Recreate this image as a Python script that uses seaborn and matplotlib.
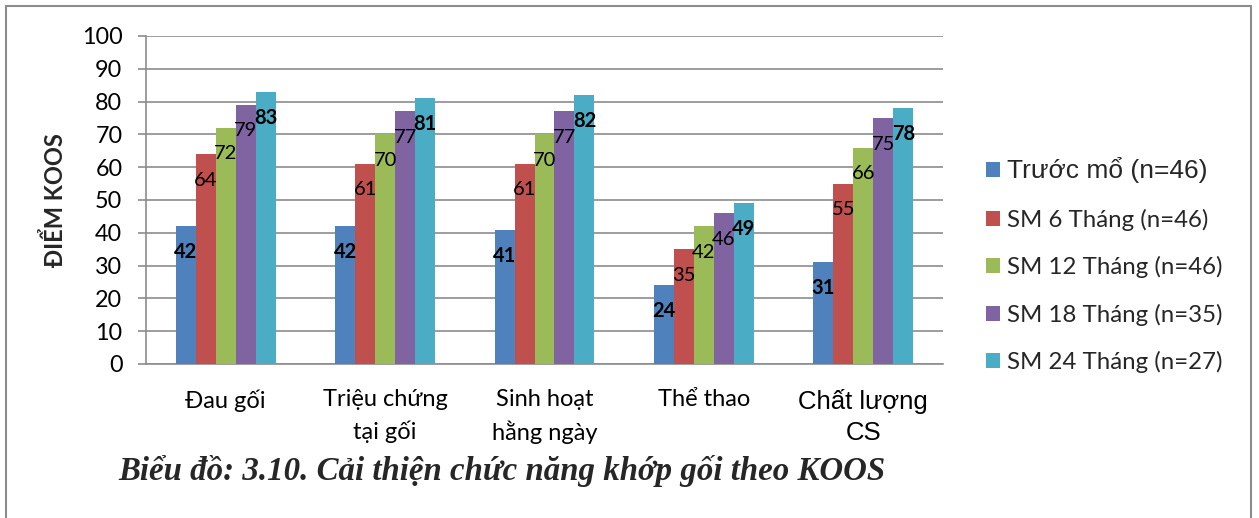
import matplotlib
matplotlib.use("Agg")
import matplotlib.pyplot as plt
from matplotlib.patches import Rectangle
import pandas as pd
import seaborn as sns

# KOOS scores per domain and follow-up time point
categories = ["Đau gối", "Triệu chứng\ntại gối", "Sinh hoạt\nhằng ngày", "Thể thao", "Chất lượng\nCS"]
series_names = ["Trước mổ (n=46)", "SM 6 Tháng (n=46)", "SM 12 Tháng (n=46)",
                "SM 18 Tháng (n=35)", "SM 24 Tháng (n=27)"]
truoc_mo = [42, 42, 41, 24, 31]
sm_6 = [64, 61, 61, 35, 55]
sm_12 = [72, 70, 70, 42, 66]
sm_18 = [79, 77, 77, 46, 75]
sm_24 = [83, 81, 82, 49, 78]
y_ticks = [0, 10, 20, 30, 40, 50, 60, 70, 80, 90, 100]

colors = ["#4F81BD", "#C0504D", "#9BBB59", "#8064A2", "#4BACC6"]

values = [truoc_mo, sm_6, sm_12, sm_18, sm_24]
df = pd.DataFrame({
    "domain": [c for _ in series_names for c in categories],
    "group": [s for s in series_names for _ in categories],
    "score": [v for vals in values for v in vals],
})

sns.set_theme(style="white")
plt.rcParams["font.family"] = ["Lato", "DejaVu Sans"]

fig = plt.figure(figsize=(12.59, 5.18), dpi=100)
ax = fig.add_axes([146 / 1259, 1 - 364 / 518, (943 - 146) / 1259, (364 - 36) / 518])

sns.barplot(data=df, x="domain", y="score", hue="group", order=categories,
            hue_order=series_names, palette=colors, width=0.627, saturation=1,
            edgecolor="none", linewidth=0, ax=ax, zorder=3)

ax.set_ylim(0, 100)
ax.set_yticks(y_ticks)
ax.set_xlim(-0.5, len(categories) - 0.5)
ax.yaxis.grid(True, color="#8c8c8c", linewidth=1.2, zorder=0)
ax.set_axisbelow(True)
for side in ["top", "right"]:
    ax.spines[side].set_visible(False)
for side in ["left", "bottom"]:
    ax.spines[side].set_color("#8c8c8c")
    ax.spines[side].set_linewidth(1.2)
ax.tick_params(axis="y", length=6, width=1.2, color="#8c8c8c", direction="out",
               pad=11, labelsize=16.8, labelcolor="black", left=True)
ax.tick_params(axis="x", length=0, pad=18, labelsize=17, labelcolor="black")
for lbl in ax.get_xticklabels():
    lbl.set_linespacing(1.55)
    if lbl.get_text().startswith("Chất"):
        lbl.set_fontfamily(["Liberation Sans", "DejaVu Sans"])
        lbl.set_fontsize(18.5)
        lbl.set_linespacing(1.38)

ax.set_xlabel("")
ax.set_ylabel("ĐIỂM KOOS", fontsize=17, fontweight="bold")
ax.yaxis.set_label_coords(-0.099, 0.50)

# Value labels just inside the top of each bar
for i, cont in enumerate(ax.containers):
    weight = "bold" if i in (0, 4) else "normal"
    for bar, val in zip(cont, values[i]):
        ax.annotate(f"{val}", xy=(bar.get_x() + bar.get_width() / 2, val),
                    xytext=(0, -26), textcoords="offset pixels",
                    ha="center", va="center", fontsize=14.5, fontweight=weight,
                    color="black", zorder=5)

handles, labels = ax.get_legend_handles_labels()
leg = ax.legend(handles, labels, loc="upper left",
                bbox_to_anchor=(986 / 1259, 1 - 157 / 518),
                bbox_transform=fig.transFigure, frameon=False, fontsize=17.3,
                handlelength=0.58, handleheight=0.58, handletextpad=0.3,
                labelspacing=1.06, borderpad=0, borderaxespad=0)
leg.get_texts()[0].set_fontfamily(["Liberation Sans", "DejaVu Sans"])
leg.get_texts()[0].set_fontsize(19)

fig.text(502 / 1259, 1 - 471 / 518, "Biểu đồ: 3.10. Cải thiện chức năng khớp gối theo KOOS",
         ha="center", va="center", fontsize=23.7, fontweight="bold", fontstyle="italic",
         family=["Liberation Serif", "DejaVu Serif"])

fig.patches.append(Rectangle((6 / 1259, -0.05), (1251 - 6) / 1259, 1.05 - 6 / 518,
                             transform=fig.transFigure, fill=False,
                             edgecolor="#8c8c8c", linewidth=1.5))

fig.savefig("out.png", dpi=100, facecolor="white")
